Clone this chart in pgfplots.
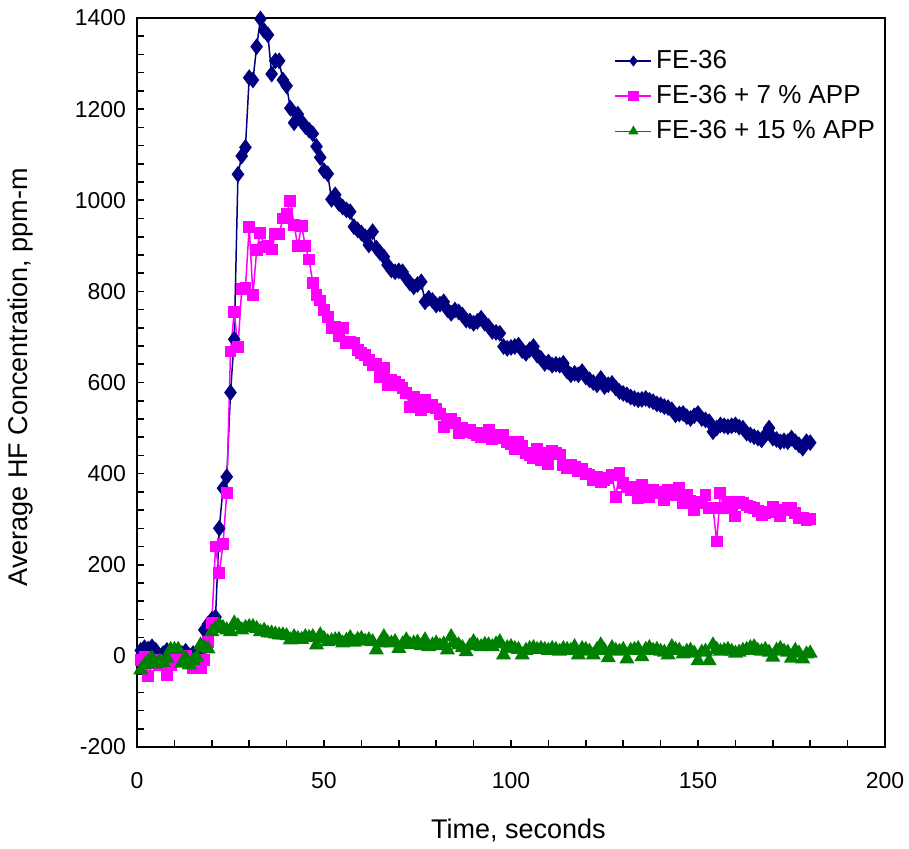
\documentclass[border=0pt]{standalone}
\usepackage{fontspec}
\setmainfont{Liberation Sans}
\usepackage{pgfplots}
\pgfplotsset{compat=1.18}
\definecolor{navyc}{RGB}{0,0,128}
\definecolor{magc}{RGB}{255,0,255}
\definecolor{grnc}{RGB}{0,128,0}
\begin{document}
\begin{tikzpicture}
\begin{axis}[
  scale only axis, width=374pt, height=364.5pt,
  xmin=0, xmax=200, ymin=-200, ymax=1400,
  xtick={0,50,...,200}, ytick={-200,0,...,1400},
  minor xtick={10,20,...,190}, minor ytick={-160,-120,...,1360},
  xtick pos=bottom, ytick pos=left,
  tick align=inside, major tick length=3.5pt, minor tick length=3.5pt,
  every tick/.style={black, line width=0.8pt},
  axis line style={line width=1pt},
  clip=false,
  /pgf/number format/assume math mode=true,
  /pgf/number format/1000 sep={},
  yticklabel style={font=\fontsize{11.5}{13}\selectfont, xshift=-2pt},
  xticklabel style={font=\fontsize{11.5}{13}\selectfont, yshift=-9pt},
  xlabel={Time, seconds}, ylabel={Average HF Concentration, ppm-m},
  label style={font=\fontsize{13.5}{16}\selectfont},
  xlabel style={at={(axis description cs:0.51,-0.114)}, anchor=center},
  ylabel style={at={(axis description cs:-0.156,0.507)}, anchor=center},
  legend style={draw=none, fill=none, at={(rel axis cs:0.998,0.967)}, anchor=north east,
    font=\fontsize{13}{15.6}\selectfont, row sep=3pt, inner sep=2pt},
  legend cell align=left,
  legend image code/.code={\draw[mark repeat=2, mark phase=2, #1, mark size=2.2pt] plot coordinates {(0pt,0pt) (9pt,0pt) (18pt,0pt)};},
]
\coordinate (O) at (rel axis cs:0,0);
\addplot[navyc, line width=0.75pt, mark=diamond*, mark size=3.6pt, mark options={solid, fill=navyc}] coordinates {
(1,12) (2,18) (3,15) (4,20) (5,12) (6,0) (7,5) (8,12) (9,10) (10,8)
(11,12) (12,5) (13,10) (14,0) (15,5) (16,8) (17,12) (18,57) (19,70) (20,80)
(21,85) (22,280) (23,368) (24,393) (25,578) (26,695) (27,1057) (28,1097) (29,1116) (30,1269)
(31,1264) (32,1337) (33,1398) (34,1372) (35,1363) (36,1277) (37,1306) (38,1306) (39,1264) (40,1251)
(41,1202) (42,1170) (43,1189) (44,1173) (45,1162) (46,1154) (47,1146) (48,1118) (49,1094) (50,1065)
(51,1058) (52,1002) (53,1012) (54,993) (55,985) (56,979) (57,975) (58,942) (59,935) (60,928)
(61,920) (62,902) (63,931) (64,895) (65,885) (66,876) (67,858) (68,847) (69,843) (70,845)
(71,843) (72,829) (73,818) (74,810) (75,815) (76,821) (77,777) (78,785) (79,780) (80,770)
(81,772) (82,777) (83,760) (84,752) (85,759) (86,755) (87,748) (88,737) (89,735) (90,730)
(91,734) (92,741) (93,730) (94,723) (95,712) (96,710) (97,708) (98,679) (99,675) (100,677)
(101,679) (102,682) (103,670) (104,664) (105,672) (106,679) (107,660) (108,653) (109,642) (110,645)
(111,638) (112,640) (113,638) (114,642) (115,625) (116,617) (117,620) (118,617) (119,624) (120,612)
(121,606) (122,600) (123,595) (124,609) (125,591) (126,595) (127,598) (128,588) (129,580) (130,576)
(131,573) (132,568) (133,565) (134,562) (135,563) (136,565) (137,561) (138,558) (139,553) (140,551)
(141,547) (142,545) (143,540) (144,529) (145,531) (146,532) (147,525) (148,521) (149,527) (150,532)
(151,521) (152,518) (153,514) (154,492) (155,500) (156,507) (157,505) (158,503) (159,505) (160,507)
(161,502) (162,500) (163,489) (164,485) (165,481) (166,478) (167,474) (168,485) (169,500) (170,478)
(171,475) (172,470) (173,472) (174,470) (175,478) (176,470) (177,463) (178,456) (179,470) (180,468)
};
\addlegendentry{FE-36}
\addplot[magc, line width=0.75pt, mark=square*, mark size=2.6pt, mark options={solid, fill=magc}] coordinates {
(1,-9) (2,-2) (3,-44) (4,-15) (5,-9) (6,-20) (7,-15) (8,-42) (9,-20) (10,-9)
(11,-5) (12,-2) (13,0) (14,-10) (15,-27) (16,-27) (17,-27) (18,-10) (19,30) (20,72)
(21,240) (22,181) (23,245) (24,358) (25,668) (26,755) (27,677) (28,805) (29,808) (30,942)
(31,792) (32,891) (33,929) (34,897) (35,900) (36,892) (37,926) (38,926) (39,960) (40,970)
(41,998) (42,946) (43,900) (44,944) (45,900) (46,870) (47,819) (48,792) (49,780) (50,759)
(51,744) (52,719) (53,723) (54,701) (55,719) (56,686) (57,690) (58,686) (59,671) (60,664)
(61,660) (62,649) (63,638) (64,640) (65,613) (66,631) (67,595) (68,605) (69,602) (70,595)
(71,587) (72,576) (73,547) (74,569) (75,560) (76,540) (77,562) (78,547) (79,550) (80,543)
(81,530) (82,503) (83,514) (84,520) (85,511) (86,489) (87,500) (88,492) (89,495) (90,489)
(91,485) (92,480) (93,489) (94,496) (95,475) (96,485) (97,478) (98,485) (99,470) (100,465)
(101,455) (102,470) (103,460) (104,445) (105,440) (106,435) (107,455) (108,430) (109,445) (110,420)
(111,450) (112,445) (113,442) (114,418) (115,412) (116,420) (117,415) (118,405) (119,410) (120,400)
(121,398) (122,385) (123,392) (124,382) (125,386) (126,390) (127,397) (128,349) (129,402) (130,380)
(131,371) (132,364) (133,370) (134,346) (135,375) (136,360) (137,349) (138,364) (139,357) (140,360)
(141,342) (142,364) (143,358) (144,353) (145,368) (146,335) (147,353) (148,340) (149,320) (150,338)
(151,335) (152,353) (153,324) (154,325) (155,251) (156,358) (157,324) (158,338) (159,324) (160,306)
(161,338) (162,335) (163,330) (164,327) (165,324) (166,318) (167,309) (168,313) (169,316) (170,327)
(171,318) (172,306) (173,320) (174,324) (175,324) (176,313) (177,302) (178,302) (179,298) (180,300)
};
\addlegendentry{FE-36 + 7 \% APP}
\addplot[grnc, line width=0.75pt, mark=triangle*, mark size=3.6pt, mark options={solid, fill=grnc}] coordinates {
(1,-31) (2,-20) (3,-12) (4,-5) (5,-18) (6,-12) (7,-15) (8,-5) (9,14) (10,14)
(11,14) (12,-16) (13,-5) (14,-20) (15,-10) (16,-3) (17,24) (18,19) (19,15) (20,53)
(21,60) (22,68) (23,62) (24,57) (25,53) (26,72) (27,66) (28,57) (29,62) (30,64)
(31,64) (32,60) (33,53) (34,56) (35,50) (36,50) (37,48) (38,46) (39,46) (40,44)
(41,35) (42,42) (43,38) (44,36) (45,42) (46,40) (47,42) (48,24) (49,46) (50,38)
(51,31) (52,33) (53,35) (54,36) (55,28) (56,34) (57,40) (58,30) (59,36) (60,38)
(61,32) (62,35) (63,31) (64,13) (65,28) (66,42) (67,30) (68,28) (69,31) (70,16)
(71,26) (72,35) (73,25) (74,28) (75,30) (76,22) (77,35) (78,20) (79,24) (80,28)
(81,22) (82,26) (83,13) (84,42) (85,28) (86,24) (87,18) (88,9) (89,22) (90,31)
(91,22) (92,20) (93,25) (94,24) (95,20) (96,26) (97,31) (98,2) (99,18) (100,20)
(101,16) (102,14) (103,2) (104,12) (105,16) (106,18) (107,14) (108,16) (109,14) (110,12)
(111,16) (112,14) (113,10) (114,16) (115,14) (116,12) (117,20) (118,2) (119,16) (120,14)
(121,10) (122,2) (123,14) (124,24) (125,12) (126,-4) (127,18) (128,12) (129,10) (130,14)
(131,-7) (132,12) (133,14) (134,16) (135,-2) (136,14) (137,18) (138,12) (139,14) (140,10)
(141,8) (142,2) (143,20) (144,14) (145,12) (146,4) (147,10) (148,12) (149,6) (150,-11)
(151,8) (152,10) (153,-11) (154,24) (155,14) (156,10) (157,12) (158,14) (159,10) (160,6)
(161,8) (162,12) (163,14) (164,18) (165,20) (166,12) (167,10) (168,14) (169,8) (170,-3)
(171,12) (172,16) (173,10) (174,8) (175,-5) (176,12) (177,6) (178,-7) (179,4) (180,6)
};
\addlegendentry{FE-36 + 15 \% APP}
\end{axis}
\pgfresetboundingbox
\path[use as bounding box] (O) ++(-68.5pt,-50.5pt) rectangle ++(454.5pt,424pt);
\end{tikzpicture}
\end{document}
